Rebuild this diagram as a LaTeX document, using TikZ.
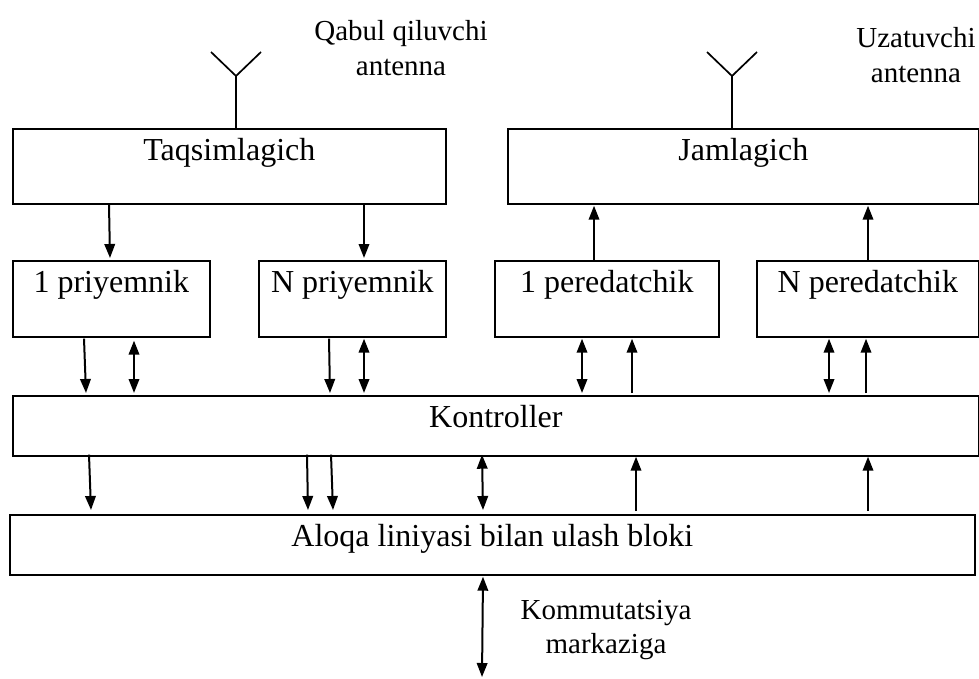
\documentclass[tikz,border=0pt]{standalone}
\usepackage{fontspec}
\setmainfont{Liberation Serif}
\usetikzlibrary{calc,arrows.meta}
\tikzset{
	blok/.style={draw, line width=1.7pt, inner sep=0pt, anchor=north west},
	sarlavha/.style={anchor=base, inner sep=0pt, yshift=-32pt, font=\fontsize{32}{36}\selectfont},
	yozuv/.style={align=center, inner sep=0pt, font=\fontsize{29}{34.7}\selectfont},
	strelka/.style={-{Stealth[length=14pt,width=10.5pt,inset=0pt]}, line width=2pt},
	ikki/.style={{Stealth[length=14pt,width=10.5pt,inset=0pt]}-{Stealth[length=14pt,width=10.5pt,inset=0pt]}, line width=2pt}
}
\begin{document}
\begin{tikzpicture}[x=1pt,y=-1pt]
	\useasboundingbox (0,0) rectangle (979,678);
	\node[blok, minimum width=433pt, minimum height=75pt, label={[sarlavha]north:Taqsimlagich}] at (12,128) (taq) {};
	\node[blok, minimum width=471pt, minimum height=75pt, label={[sarlavha]north:Jamlagich}] at (507,128) (jam) {};
	\node[blok, minimum width=197pt, minimum height=76pt, label={[sarlavha]north:1 priyemnik}] at (12,260) (p1) {};
	\node[blok, minimum width=187pt, minimum height=76pt, label={[sarlavha]north:N priyemnik}] at (258,260) (pn) {};
	\node[blok, minimum width=224pt, minimum height=76pt, label={[sarlavha]north:1 peredatchik}] at (494,260) (u1) {};
	\node[blok, minimum width=222pt, minimum height=76pt, label={[sarlavha]north:N peredatchik}] at (756,260) (un) {};
	\node[blok, minimum width=966pt, minimum height=60pt, label={[sarlavha]north:Kontroller}] at (12,395) (kon) {};
	\node[blok, minimum width=965pt, minimum height=60pt, label={[sarlavha]north:Aloqa liniyasi bilan ulash bloki}] at (9,514) (alo) {};
	\node[yozuv] at (401,48) (qabul) {Qabul qiluvchi\\antenna};
	\node[yozuv] at (916,55) (uzat) {Uzatuvchi\\antenna};
	\node[yozuv] at (606,630) (kmm) {Kommutatsiya\\markaziga};
	\coordinate (pastki) at (482,677);
	% antennas
	\coordinate (a1) at (236,128);
	\coordinate (a2) at (732,128);
	\foreach \i in {a1,a2}{
	\draw[line width=1.7pt] (\i) -- ($(\i)+(0,-52)$) -- ($(\i)+(-25,-76)$);
	\draw[line width=1.7pt] ($(\i)+(0,-52)$) -- ($(\i)+(25,-76)$);
	}
	% vertical links
	\draw[strelka] ($(taq.south west)+(97,0)$) -- ($(p1.north west)+(98,-2)$);
	\draw[strelka] ($(taq.south west)+(352,0)$) -- ($(pn.north west)+(106,-2)$);
	\draw[strelka] ($(u1.north west)+(100,0)$) -- ($(jam.south west)+(87,1)$);
	\draw[strelka] ($(un.north west)+(112,0)$) -- ($(jam.south west)+(361,1)$);
	\draw[strelka] ($(p1.south west)+(72,1)$) -- ($(kon.north west)+(74,-2)$);
	\draw[ikki] ($(p1.south west)+(122,3)$) -- ($(kon.north west)+(122,-2)$);
	\draw[strelka] ($(pn.south west)+(71,1)$) -- ($(kon.north west)+(318,-2)$);
	\draw[ikki] ($(pn.south west)+(106,1)$) -- ($(kon.north west)+(352,-2)$);
	\draw[ikki] ($(u1.south west)+(88,1)$) -- ($(kon.north west)+(570,-2)$);
	\draw[strelka] ($(kon.north west)+(620,-2)$) -- ($(u1.south west)+(138,1)$);
	\draw[ikki] ($(un.south west)+(73,1)$) -- ($(kon.north west)+(817,-2)$);
	\draw[strelka] ($(kon.north west)+(854,-2)$) -- ($(un.south west)+(110,1)$);
	\draw[strelka] ($(kon.south west)+(77,-2)$) -- ($(alo.north west)+(82,-4)$);
	\draw[strelka] ($(kon.south west)+(295,-2)$) -- ($(alo.north west)+(299,-4)$);
	\draw[strelka] ($(kon.south west)+(319,-2)$) -- ($(alo.north west)+(324,-4)$);
	\draw[ikki] ($(kon.south west)+(470,-2)$) -- ($(alo.north west)+(474,-4)$);
	\draw[strelka] ($(alo.north west)+(627,-3)$) -- ($(kon.south west)+(624,0)$);
	\draw[strelka] ($(alo.north west)+(859,-3)$) -- ($(kon.south west)+(856,0)$);
	\draw[ikki] ($(alo.south west)+(474,1)$) -- (pastki);
\end{tikzpicture}
\end{document}
